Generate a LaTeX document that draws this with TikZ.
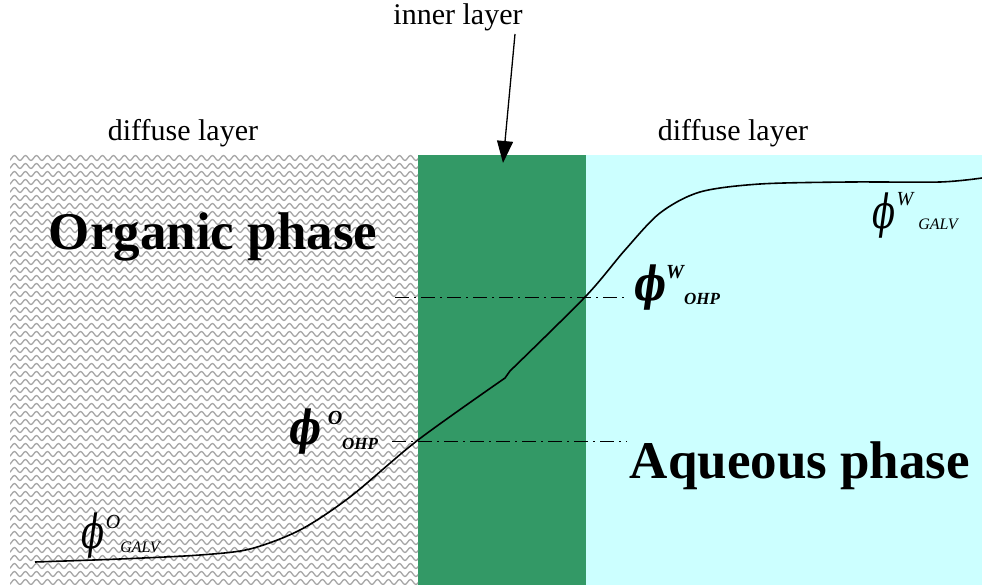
\documentclass[tikz,border=0pt]{standalone}
\usepackage{fontspec}
\setmainfont{Liberation Serif}
\newfontfamily\phifont{DejaVu Serif}
\usetikzlibrary{arrows.meta,decorations.pathmorphing}
\definecolor{innergreen}{HTML}{339966}
\definecolor{aqcyan}{HTML}{CCFFFF}
\definecolor{wavegray}{HTML}{A6A6A6}
\newcommand{\narrowphi}{\scalebox{0.72}[1]{ϕ}}
\tikzset{
  wave/.style={draw=wavegray, line width=1.3pt, decorate, decoration={snake, segment length=11pt, amplitude=2.5pt}},
  refline/.style={line width=0.9pt, dash pattern=on 14pt off 5pt on 2pt off 5pt},
  potential/.style={line width=1.6pt},
  lbl/.style={inner sep=0pt, font=\fontsize{30}{30}\selectfont},
  phasetxt/.style={inner sep=0pt, font=\fontsize{53}{53}\selectfont\bfseries},
  phib/.style={inner sep=0pt, font=\fontsize{47}{47}\selectfont\phifont\bfseries\itshape},
  phin/.style={inner sep=0pt, font=\fontsize{47}{47}\selectfont\phifont\itshape},
  supb/.style={inner sep=0pt, font=\fontsize{20}{20}\selectfont\bfseries\itshape},
  supn/.style={inner sep=0pt, font=\fontsize{20}{20}\selectfont\itshape},
  subb/.style={inner sep=0pt, font=\fontsize{17}{17}\selectfont\bfseries\itshape},
  subn/.style={inner sep=0pt, font=\fontsize{16}{16}\selectfont\itshape},
}
\begin{document}
\begin{tikzpicture}[x=1pt,y=-1pt]
\useasboundingbox (0,0) rectangle (982,585);
% regions
\fill[innergreen] (418,155) rectangle (586,585);
\fill[aqcyan] (586,155) rectangle (982,585);
\begin{scope}
  \clip (10,155) rectangle (418,585);
  \foreach \yy in {158,166,...,590}{
    \draw[wave] (0,\yy) -- (430,\yy);
  }
\end{scope}
% reference lines
\coordinate (r1a) at (395,297);
\coordinate (r1b) at (627,297);
\coordinate (r2a) at (392,441);
\coordinate (r2b) at (627,441);
\draw[refline] (r1a) -- (r1b);
\draw[refline] (r2a) -- (r2b);
% potential curve
\draw[potential] plot[smooth, tension=0.5] coordinates {(35,562) (120,559) (200,555) (250,549) (300,530) (350,497) (418,440) (505,378)}
  -- (510,371)
  plot[smooth, tension=0.5] coordinates {(510,371) (586,296) (625,250) (660,213) (700,192) (760,184) (850,182) (940,182) (982,178)};
% labels
\node[lbl] (dl1) at (183,133) {diffuse layer};
\node[lbl] (dl2) at (733,133) {diffuse layer};
\node[lbl] (il) at (458,17) {inner layer};
\coordinate (ilstart) at (515,34);
\coordinate (iltip) at (503,163);
\draw[line width=1.3pt, -{Triangle[length=22pt,width=16pt]}] (ilstart) -- (iltip);
\node[phasetxt] (org) at (213,237) {Organic phase};
\node[phasetxt] (aq) at (800,466) {Aqueous phase};
% potentials
\node[phib] (p1) at (305,432) {\narrowphi};
\node[supb] (p1s) at (335,418) {O};
\node[subb] (p1b) at (360,444) {OHP};
\node[phib] (p2) at (650,288) {\narrowphi};
\node[supb] (p2s) at (675,272) {W};
\node[subb] (p2b) at (702,299) {OHP};
\node[phin] (p3) at (884,216) {\narrowphi};
\node[supn] (p3s) at (905,199) {W};
\node[subn] (p3b) at (938,224) {GALV};
\node[phin] (p4) at (93,536) {\narrowphi};
\node[supn] (p4s) at (113,522) {O};
\node[subn] (p4b) at (140,547) {GALV};
\end{tikzpicture}
\end{document}
